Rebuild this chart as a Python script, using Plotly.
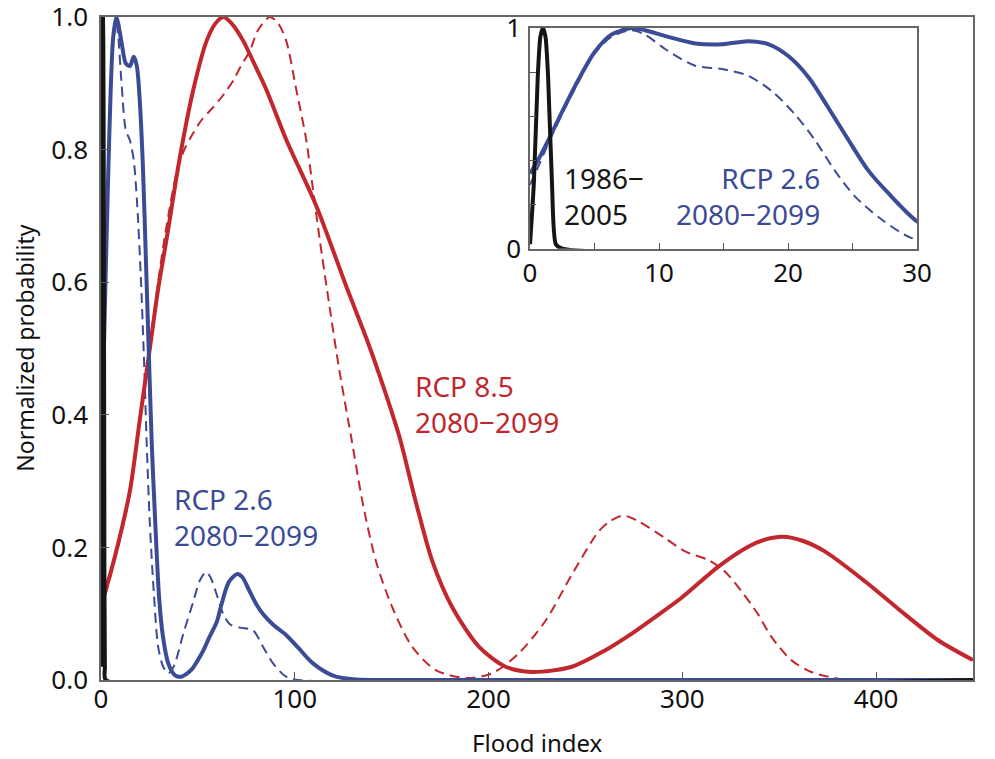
import plotly.graph_objects as go

# Colours
BLUE = '#3c4b95'
RED = '#c1272d'
BLACK = '#151515'
FONT = 'Noto Sans'

# 1986-2005 reference distribution (narrow spike near flood index 1)
hist_x = [0, 0.3, 0.6, 0.8, 1.0, 1.2, 1.4, 1.7, 2.0, 2.5, 450]
hist_y = [0.02, 0.3, 0.78, 0.96, 1.0, 0.96, 0.78, 0.3, 0.02, 0, 0]

# RCP 2.6, 2080-2099 (solid)
rcp26_x = [0, 0.7, 1.4, 2.4, 3.7, 5.0, 6.3, 7.9, 8.9, 10.7, 12.8, 14.9, 16.9, 18.5, 20.0,
           21.6, 23.1, 24.7, 26.2, 27.8, 30, 32, 34.7, 38.2, 41.6, 44, 46.8, 50, 52.9, 56,
           59.8, 62, 66, 70.4, 73, 76.5, 80, 83.7, 89, 95.5, 102, 109.4, 119.4, 130, 145, 450]
rcp26_y = [0.34, 0.41, 0.49, 0.61, 0.76, 0.89, 0.97, 1.0, 0.99, 0.96, 0.93, 0.926, 0.94, 0.926, 0.874,
           0.776, 0.641, 0.491, 0.356, 0.25, 0.124, 0.065, 0.025, 0.007, 0.005, 0.009, 0.016, 0.03, 0.045, 0.065,
           0.088, 0.112, 0.148, 0.16, 0.155, 0.135, 0.115, 0.099, 0.083, 0.068, 0.048, 0.025, 0.007, 0.001, 0, 0]

# RCP 2.6, 2080-2099 (dashed)
rcp26d_x = [0, 0.7, 1.4, 2.4, 3.7, 5.0, 6.3, 7.9, 8.9, 10.7, 12.8, 14.9, 16.9, 18.7, 20.5,
            22.1, 23.6, 25.2, 27.3, 29.5, 32.1, 34.7, 36.5, 38.2, 42.5, 47.7, 51, 54.2, 56.5, 59.7,
            63, 66.5, 71.7, 78.4, 83.6, 88.8, 95.5, 102, 450]
rcp26d_y = [0.29, 0.38, 0.475, 0.6, 0.75, 0.885, 0.96, 0.99, 0.97, 0.896, 0.829, 0.814, 0.784, 0.716, 0.611,
            0.491, 0.356, 0.236, 0.13, 0.05, 0.02, 0.01, 0.015, 0.025, 0.07, 0.119, 0.15, 0.163, 0.155, 0.129,
            0.1, 0.084, 0.079, 0.075, 0.05, 0.025, 0.005, 0, 0]

# RCP 8.5, 2080-2099 (solid)
rcp85_x = [0, 7.5, 14.9, 19.9, 25.2, 29.5, 33.9, 40.8, 47.6, 54.5, 59, 63.1, 67.5, 73.4, 79, 85.4,
           95.6, 111.1, 126.4, 131.7, 137, 143.7, 153.9, 162.5, 171, 181.4, 195.1, 208.8, 222.5, 243,
           260.3, 273.9, 286, 299.6, 318.6, 334, 343, 352, 362, 373.5, 394.2, 414.9, 432, 450]
rcp85_y = [0.11, 0.19, 0.285, 0.39, 0.5, 0.59, 0.666, 0.79, 0.89, 0.964, 0.99, 1.0, 0.99, 0.964, 0.93, 0.89,
           0.815, 0.715, 0.595, 0.555, 0.515, 0.46, 0.368, 0.268, 0.179, 0.109, 0.05, 0.02, 0.012, 0.02,
           0.045, 0.07, 0.095, 0.124, 0.171, 0.201, 0.212, 0.216, 0.21, 0.194, 0.149, 0.099, 0.06, 0.03]

# RCP 8.5, 2080-2099 (dashed)
rcp85d_x = [0, 7.5, 14.9, 19.9, 25.2, 29.5, 33, 39, 43, 47.6, 52, 57.9, 63, 68.2, 72, 76.8, 81,
            87.1, 91.5, 95.6, 100.8, 105.9, 109.4, 112.8, 117.8, 123, 129, 135, 141.9, 150.4, 160.6,
            172.7, 188.1, 201.8, 215.5, 229.3, 243, 256.8, 263, 269.5, 277, 291.1, 301.4, 313.4, 321.8,
            330.5, 339.1, 346, 356.2, 366.6, 375.2, 385, 450]
rcp85d_y = [0.105, 0.185, 0.28, 0.39, 0.505, 0.6, 0.67, 0.765, 0.8, 0.825, 0.845, 0.864, 0.882, 0.904, 0.925,
            0.949, 0.98, 1.0, 0.99, 0.964, 0.89, 0.815, 0.74, 0.666, 0.566, 0.467, 0.368, 0.268, 0.179, 0.109,
            0.05, 0.015, 0.003, 0.01, 0.04, 0.089, 0.159, 0.224, 0.24, 0.248, 0.24, 0.214, 0.194, 0.181, 0.164,
            0.134, 0.099, 0.065, 0.03, 0.012, 0.005, 0, 0]

main_xticks = [0, 100, 200, 300, 400]
main_yticks = [0.0, 0.2, 0.4, 0.6, 0.8, 1.0]
inset_xticks = [0, 5, 10, 15, 20, 25, 30]
inset_xlabels = ['0', '', '10', '', '20', '', '30']
inset_yticks = [0, 0.2, 0.4, 0.6, 0.8, 1.0]
inset_ylabels = ['0', '', '', '', '', '1']

fig = go.Figure()


def add_curves(xa, ya):
    fig.add_trace(go.Scatter(x=rcp26d_x, y=rcp26d_y, mode='lines', xaxis=xa, yaxis=ya,
                             line=dict(color=BLUE, width=2, dash='10px,6px', shape='spline', smoothing=0.8)))
    if xa == 'x':
        fig.add_trace(go.Scatter(x=rcp85d_x, y=rcp85d_y, mode='lines', xaxis=xa, yaxis=ya,
                                 line=dict(color=RED, width=2, dash='10px,6px', shape='spline', smoothing=0.8)))
        fig.add_trace(go.Scatter(x=rcp85_x, y=rcp85_y, mode='lines', xaxis=xa, yaxis=ya,
                                 line=dict(color=RED, width=4, shape='spline', smoothing=0.8)))
    fig.add_trace(go.Scatter(x=rcp26_x, y=rcp26_y, mode='lines', xaxis=xa, yaxis=ya,
                             line=dict(color=BLUE, width=4, shape='spline', smoothing=0.8)))
    fig.add_trace(go.Scatter(x=hist_x, y=hist_y, mode='lines', xaxis=xa, yaxis=ya,
                             line=dict(color=BLACK, width=4, shape='spline', smoothing=0.6)))


add_curves('x', 'y')
add_curves('x2', 'y2')

axis_common = dict(showgrid=False, zeroline=False, showline=True, linecolor='#666666', linewidth=1.5,
                   mirror=True, ticks='inside', tickcolor='#555555', ticklen=8, tickwidth=1.2,
                   automargin=False, ticklabeloverflow='allow',
                   tickfont=dict(family=FONT, size=26, color='#111111'))

# the page body adds an 8 px offset, the margins below allow for it
fig.update_layout(
    width=995, height=759,
    margin=dict(l=93, r=30, t=9, b=87),
    paper_bgcolor='white', plot_bgcolor='white',
    showlegend=False,
    xaxis=dict(axis_common, range=[0, 450], domain=[0, 1], tickvals=main_xticks, ticklabelstandoff=-5),
    yaxis=dict(axis_common, range=[0, 1], domain=[0, 1], tickvals=main_yticks,
               tickformat='.1f', ticklabelstandoff=6),
    xaxis2=dict(axis_common, range=[0, 30], domain=[0.492, 0.9358], anchor='y2',
                tickvals=inset_xticks, ticktext=inset_xlabels, ticklen=6, ticklabelstandoff=0),
    yaxis2=dict(axis_common, range=[0, 1], domain=[0.6506, 0.9834], anchor='x2',
                tickvals=inset_yticks, ticktext=inset_ylabels, ticklen=6, ticklabelstandoff=2),
)

label_font = dict(family=FONT, size=28)
fig.add_annotation(x=36.6, y=0.2455, xref='x', yref='y', xanchor='left', yanchor='middle', align='left',
                   text='RCP 2.6<br>2080\u22122099', showarrow=False, font=dict(label_font, color=BLUE))
fig.add_annotation(x=160.8, y=0.4157, xref='x', yref='y', xanchor='left', yanchor='middle', align='left',
                   text='RCP 8.5<br>2080\u22122099', showarrow=False, font=dict(label_font, color=RED))
fig.add_annotation(x=2.5, y=0.2376, xref='x2', yref='y2', xanchor='left', yanchor='middle', align='left',
                   text='1986\u2212<br>2005', showarrow=False, font=dict(label_font, color=BLACK))
fig.add_annotation(x=22.6, y=0.2376, xref='x2', yref='y2', xanchor='right', yanchor='middle', align='right',
                   text='RCP 2.6<br>2080\u22122099', showarrow=False, font=dict(label_font, color=BLUE))

# axis titles
fig.add_annotation(x=-0.088, y=0.5, xref='paper', yref='paper', xanchor='center', yanchor='middle',
                   textangle=-90, showarrow=False,
                   text='Normalized probability', font=dict(family=FONT, size=23, color='#111111'))
fig.add_annotation(x=0.5, y=-0.095, xref='paper', yref='paper', xanchor='center', yanchor='middle',
                   showarrow=False,
                   text='Flood index', font=dict(family=FONT, size=24, color='#111111'))

fig.write_html("out.html")
